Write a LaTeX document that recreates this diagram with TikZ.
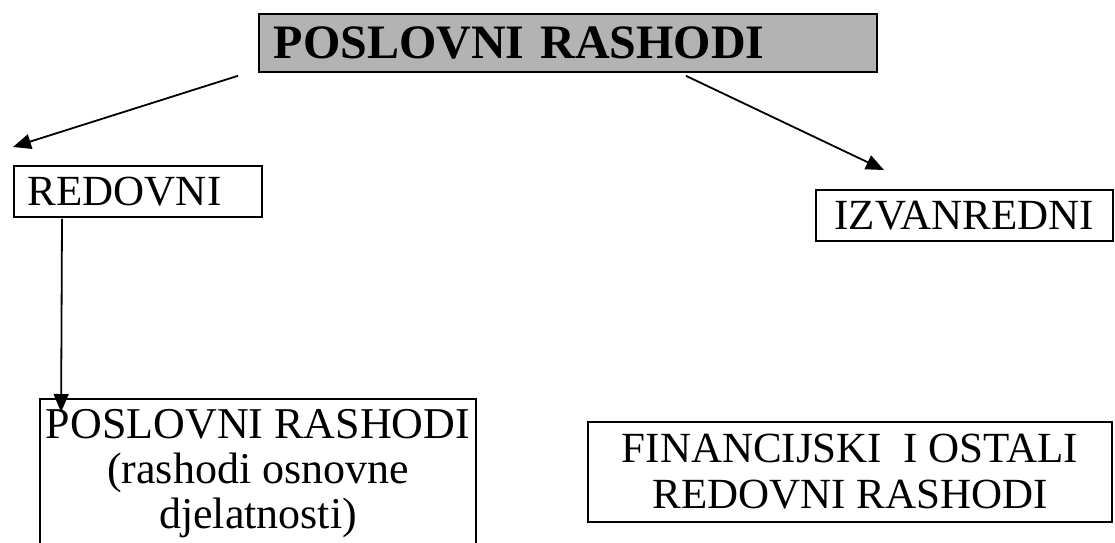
\documentclass[tikz,border=0pt]{standalone}
\usepackage{fontspec}
\setmainfont{Liberation Serif}
\usetikzlibrary{arrows.meta,calc}
\definecolor{boxgray}{RGB}{179,179,179}
\begin{document}
\begin{tikzpicture}[x=1pt,y=-1pt,
  box/.style={draw, line width=1.8pt, inner sep=0pt},
  arr/.style={line width=1.8pt, -{Triangle[length=18pt,width=15pt]}},
  big/.style={font=\fontsize{43}{44}\selectfont}]
\useasboundingbox (0,0) rectangle (1115,542);

% heading
\node[box, fill=boxgray, anchor=north west, minimum height=58,
      text width=588, inner xsep=15, align=left,
      font=\fontsize{48}{48}\selectfont\bfseries] (top) at (258,13) {POSLOVNI RASHODI};

% first level
\node[box, big, anchor=north west, minimum height=51,
      text width=220, inner xsep=14, align=left] (red) at (13,165) {REDOVNI};
\node[box, big, anchor=north west, minimum height=51,
      minimum width=297] (izv) at (815,189) {IZVANREDNI};

% second level (the left box runs on past the lower edge)
\node[box, anchor=north, minimum width=436, inner ysep=10,
      text depth=34pt, align=center, font=\fontsize{44}{45}\selectfont] (posl) at (258,398)
      {POSLOVNI RASHODI\\(rashodi osnovne\\djelatnosti)};
\node[box, minimum width=524, minimum height=100,
      align=center, font=\fontsize{43}{46}\selectfont] (fin) at (850,472)
      {FINANCIJSKI\ \ I OSTALI\\REDOVNI RASHODI};

% connector end points
\coordinate (lstart) at ($(top.south west)+(-20,3)$);
\coordinate (lend)   at ($(red.north west)+(0,-18)$);
\coordinate (rstart) at ($(top.south)+(118,3)$);
\coordinate (rend)   at ($(izv.north west)+(69,-19)$);
\coordinate (dstart) at ($(red.south west)+(49,1)$);
\coordinate (dend)   at ($(posl.north west)+(22,14)$);

\draw[arr] (lstart) -- (lend);
\draw[arr] (rstart) -- (rend);
\draw[arr] (dstart) -- (dend);
\end{tikzpicture}
\end{document}
